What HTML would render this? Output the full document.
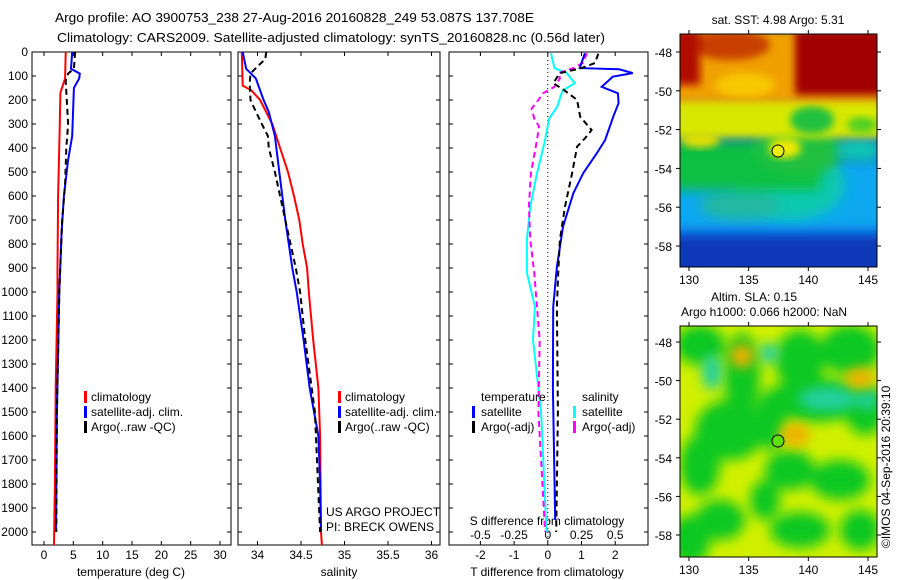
<!DOCTYPE html>
<html><head><meta charset="utf-8"><style>
body{margin:0;background:#fff;}
svg{display:block;font-family:"Liberation Sans",sans-serif;font-size:12px;}
</style></head><body>
<svg id="fig" width="900" height="580" viewBox="0 0 900 580">
<defs>
<filter id="bl" x="-20%" y="-20%" width="140%" height="140%"><feGaussianBlur stdDeviation="6"/></filter>
<filter id="bl2" x="-20%" y="-20%" width="140%" height="140%"><feGaussianBlur stdDeviation="4"/></filter>
<clipPath id="m1c"><rect x="680" y="34" width="197" height="233"/></clipPath>
<clipPath id="m2c"><rect x="680" y="326" width="197" height="231"/></clipPath>
</defs>
<text x="55" y="22" font-size="13" textLength="479" lengthAdjust="spacingAndGlyphs">Argo profile: AO 3900753_238 27-Aug-2016 20160828_249 53.087S 137.708E</text>
<text x="57" y="42" font-size="13" textLength="548" lengthAdjust="spacingAndGlyphs">Climatology: CARS2009. Satellite-adjusted climatology: synTS_20160828.nc (0.56d later)</text>

<g clip-path="url(#m1c)">
<rect x="680" y="34" width="197" height="233" fill="#1060e0"/>
<rect x="670" y="235" width="220" height="45" fill="#0838b8" filter="url(#bl)"/>
<rect x="670" y="160" width="220" height="70" fill="#10a8f0" filter="url(#bl)"/>
<ellipse cx="790" cy="185" rx="55" ry="35" fill="#10c8b0" filter="url(#bl)"/>
<ellipse cx="740" cy="205" rx="40" ry="15" fill="#20b8a0" filter="url(#bl)"/>
<rect x="670" y="140" width="150" height="50" fill="#10c040" filter="url(#bl)"/>
<ellipse cx="800" cy="150" rx="45" ry="25" fill="#20c040" filter="url(#bl)"/>
<ellipse cx="860" cy="150" rx="25" ry="12" fill="#10c8b0" filter="url(#bl)"/>
<rect x="670" y="96" width="220" height="42" fill="#d8e800" filter="url(#bl2)"/>
<ellipse cx="812" cy="120" rx="22" ry="14" fill="#20c040" filter="url(#bl2)"/>
<ellipse cx="862" cy="125" rx="15" ry="8" fill="#50d020" filter="url(#bl2)"/>
<ellipse cx="785" cy="148" rx="16" ry="10" fill="#f0e800" filter="url(#bl2)"/>
<ellipse cx="700" cy="140" rx="20" ry="8" fill="#e0e000" filter="url(#bl2)"/>
<rect x="670" y="30" width="220" height="72" fill="#f0a000" filter="url(#bl2)"/>
<ellipse cx="730" cy="45" rx="40" ry="15" fill="#c84000" filter="url(#bl2)"/>
<rect x="795" y="30" width="90" height="65" fill="#a00000" filter="url(#bl2)"/>
<rect x="670" y="30" width="30" height="55" fill="#b01000" filter="url(#bl2)"/>
<ellipse cx="745" cy="85" rx="30" ry="12" fill="#f8c800" filter="url(#bl2)"/>
</g>
<rect x="680" y="34" width="197" height="233" fill="none" stroke="#000"/>
<circle cx="778" cy="151" r="6" fill="#e8f000" stroke="#000"/>
<text x="778" y="24" text-anchor="middle">sat. SST: 4.98 Argo: 5.31</text>

<g clip-path="url(#m2c)">
<rect x="680" y="326" width="197" height="231" fill="#d0f000"/>
<g filter="url(#bl)" fill="#10c820">
<ellipse cx="700" cy="345" rx="25" ry="20"/><ellipse cx="742" cy="375" rx="18" ry="42"/>
<ellipse cx="800" cy="360" rx="25" ry="30"/><ellipse cx="850" cy="350" rx="30" ry="25"/>
<ellipse cx="815" cy="400" rx="50" ry="22"/><ellipse cx="865" cy="410" rx="20" ry="25"/>
<ellipse cx="730" cy="430" rx="35" ry="30"/><ellipse cx="700" cy="465" rx="20" ry="30"/>
<ellipse cx="790" cy="470" rx="25" ry="20"/><ellipse cx="840" cy="480" rx="30" ry="20"/>
<ellipse cx="720" cy="520" rx="25" ry="20"/><ellipse cx="800" cy="530" rx="30" ry="18"/>
<ellipse cx="860" cy="530" rx="20" ry="20"/><ellipse cx="770" cy="420" rx="15" ry="30"/>
<ellipse cx="690" cy="540" rx="20" ry="25"/><ellipse cx="765" cy="500" rx="15" ry="20"/>
</g>
<g filter="url(#bl)" fill="#20d0a0">
<ellipse cx="712" cy="372" rx="10" ry="18"/><ellipse cx="769" cy="353" rx="10" ry="10"/>
<ellipse cx="828" cy="399" rx="30" ry="12"/><ellipse cx="868" cy="400" rx="10" ry="10"/>
</g>
<g filter="url(#bl)" fill="#f0b000">
<ellipse cx="742" cy="356" rx="12" ry="12"/><ellipse cx="795" cy="435" rx="15" ry="12"/><ellipse cx="860" cy="378" rx="15" ry="10"/>
</g>
</g>
<rect x="680" y="326" width="197" height="231" fill="none" stroke="#000"/>
<circle cx="778" cy="441" r="6" fill="#60e000" stroke="#000"/>
<text x="754" y="301" text-anchor="middle">Altim. SLA: 0.15</text>
<text x="764" y="316" text-anchor="middle">Argo h1000: 0.066 h2000: NaN</text>
<text transform="translate(890,548) rotate(-90)">©IMOS 04-Sep-2016 20:39:10</text>

<text x="326" y="516">US ARGO PROJECT</text>
<text x="326" y="531">PI: BRECK OWENS</text>
<text x="547" y="525" text-anchor="middle">S difference from climatology</text>
<g id="g"></g>
</svg>
<script>
// ---- data (depth in m) ----
const tDepth=[0,110,170,300,600,900,1000,1400,1800,2054];
const tClim=[3.7,3.6,2.8,2.7,2.4,2.3,2.3,2.0,1.85,1.7];
const tSatDepth=[0,70,90,110,150,350,450,600,750,1000,1500,2000];
const tSat=[4.8,4.6,6.1,6.0,5.1,4.8,4.1,3.4,3.0,2.6,2.2,2.05];
const tArgoDepth=[0,70,90,120,300,400,550,700,1000,1500,2000];
const tArgo=[5.3,5.1,4.1,3.7,4.1,3.8,3.6,3.1,2.6,2.2,2.1];
const sClimDepth=[0,140,160,200,250,300,400,500,600,700,800,900,1000,1200,1400,1600,2000,2054];
const sClim=[33.82,33.83,33.93,34.03,34.1,34.17,34.26,34.35,34.42,34.48,34.52,34.57,34.59,34.64,34.7,34.72,34.73,34.74];
const sSatDepth=[0,70,110,200,250,350,500,700,900,1000,1200,1400,1600,1800,2000];
const sSat=[33.83,33.87,33.98,34.07,34.13,34.2,34.25,34.32,34.4,34.45,34.53,34.6,34.7,34.72,34.73];
const sArgoDepth=[0,30,60,90,130,200,240,300,350,400,500,700,900,1000,1200,1500,2000];
const sArgo=[34.1,34.09,34.0,33.92,33.91,33.92,33.97,34.05,34.12,34.13,34.2,34.32,34.44,34.49,34.55,34.66,34.72];
const dtSatDepth=[5,46,67,72,88,103,145,172,213,270,367,421,505,588,728,895,1062,1400,1950];
const dtSat=[1.1,1.0,0.95,2.12,2.52,1.93,1.6,2.08,2.1,1.94,1.7,1.46,1.05,0.76,0.45,0.27,0.16,0.15,0.22];
const dtArgoDepth=[7,46,67,88,130,160,200,270,325,360,394,505,644,783,922,1062,1500,2000];
const dtArgo=[1.5,1.4,1.0,0.36,0.16,0.5,0.87,0.96,1.3,1.1,0.87,0.72,0.51,0.36,0.31,0.27,0.3,0.25];
const dsSatDepth=[5,67,88,130,160,228,278,367,505,644,780,920,1062,1200,1500,2000];
const dsSat=[0.024,0.05,0.14,0.2,0.11,0.07,0.01,-0.02,-0.08,-0.13,-0.155,-0.155,-0.095,-0.11,-0.05,-0.01];
const dsArgoDepth=[5,46,67,88,110,145,172,200,236,278,310,367,505,644,783,922,1062,1200,1500,2000];
const dsArgo=[0.29,0.26,0.19,0.08,0.09,0.05,-0.035,-0.07,-0.12,-0.1,-0.065,-0.08,-0.125,-0.14,-0.13,-0.1,-0.08,-0.06,-0.07,-0.02];
const depthTicks=[0,100,200,300,400,500,600,700,800,900,1000,1100,1200,1300,1400,1500,1600,1700,1800,1900,2000];
const tTicks=[0,5,10,15,20,25,30];
const sTicks=[34,34.5,35,35.5,36];
const dtTicks=[-2,-1,0,1,2];
const dsTicks=[-0.5,-0.25,0,0.25,0.5];
const dsTickLabels=["-0.5","-0.25","0","0.25","0.5"];

const NS='http://www.w3.org/2000/svg';
const G=document.getElementById('g');
const TOP=52,BOT=545;
const yD=d=>TOP+d*0.24;
function mk(tag,at,parent){const e=document.createElementNS(NS,tag);for(const k in at)e.setAttribute(k,at[k]);(parent||G).appendChild(e);return e;}
const P1={l:32,r:231,x:v=>44+v*(176/30)};
const P2={l:238,r:440,x:v=>257.5+(v-34)*87};
const P3={l:449,r:648,x:v=>547.8+v*33.7};
const sx3=v=>547.8+v*134.8;

function frame(p,name){
  const r=mk('rect',{x:p.l,y:TOP,width:p.r-p.l,height:BOT-TOP,fill:'none',stroke:'#000'});
  
  
}
function line(xs,ds,fx,color,dash,name){
  const pts=xs.map((v,i)=>fx(v).toFixed(1)+','+yD(ds[i]).toFixed(1)).join(' ');
  const e=mk('polyline',{points:pts,fill:'none',stroke:color,'stroke-width':2});
  if(dash)e.setAttribute('stroke-dasharray',dash);
  
  
}
function xticks(p,ticks,fx,labels,name){
  ticks.forEach((t,i)=>{
    const x=fx(t);
    mk('line',{x1:x,y1:TOP,x2:x,y2:TOP+4,stroke:'#000'});
    mk('line',{x1:x,y1:BOT,x2:x,y2:BOT-4,stroke:'#000'});
    const tx=mk('text',{x:x,y:BOT+14,'text-anchor':'middle'});
    tx.textContent=labels?labels[i]:String(t);
    
    
  });
}
[P1,P2,P3].forEach((p,pi)=>{
  depthTicks.forEach(d=>{
    const y=yD(d);
    mk('line',{x1:p.l,y1:y,x2:p.l+4,y2:y,stroke:'#000'});
    mk('line',{x1:p.r,y1:y,x2:p.r-4,y2:y,stroke:'#000'});
    if(pi===0){const t=mk('text',{x:28,y:y+4,'text-anchor':'end'});t.textContent=d;
      
      }
  });
});
frame(P1,'temperature-panel');frame(P2,'salinity-panel');frame(P3,'difference-panel');
xticks(P1,tTicks,P1.x,null,'temperature');
xticks(P2,sTicks,P2.x,null,'salinity');
xticks(P3,dtTicks,P3.x,null,'t-diff');
dsTicks.forEach((t,i)=>{const x=sx3(t);const tx=mk('text',{x:x,y:539,'text-anchor':'middle'});tx.textContent=dsTickLabels[i];
  
  });
[['temperature (deg C)',131,'temperature-axis-title'],['salinity',339,'salinity-axis-title'],['T difference from climatology',547,'t-diff-axis-title']].forEach(a=>{
  const t=mk('text',{x:a[1],y:576,'text-anchor':'middle'});t.textContent=a[0];
  
  });
const zl=mk('line',{x1:P3.x(0),y1:TOP,x2:P3.x(0),y2:BOT,stroke:'#000','stroke-dasharray':'1,3'});



line(tClim,tDepth,P1.x,'#f00',null,'temperature-climatology-line');
line(tSat,tSatDepth,P1.x,'#00f',null,'temperature-satellite-line');
line(tArgo,tArgoDepth,P1.x,'#000','6,4','temperature-argo-line');
line(sClim,sClimDepth,P2.x,'#f00',null,'salinity-climatology-line');
line(sSat,sSatDepth,P2.x,'#00f',null,'salinity-satellite-line');
line(sArgo,sArgoDepth,P2.x,'#000','6,4','salinity-argo-line');
line(dsSat,dsSatDepth,sx3,'#0ff',null,'s-diff-satellite-line');
line(dsArgo,dsArgoDepth,sx3,'#f0f','6,4','s-diff-argo-line');
line(dtSat,dtSatDepth,P3.x,'#00f',null,'t-diff-satellite-line');
line(dtArgo,dtArgoDepth,P3.x,'#000','6,4','t-diff-argo-line');

function legend(x,y,items,name){
  items.forEach((it,i)=>{
    const yy=y+i*15;
    if(it[1])mk('rect',{x:x,y:yy-10,width:3,height:12,fill:it[1]});
    const t=mk('text',{x:x+it[2],y:yy});t.textContent=it[0];
    
    
  });
}
legend(84,401,[['climatology','#f00',7],['satellite-adj. clim.','#00f',7],['Argo(..raw -QC)','#000',7]],'temperature-legend');
legend(338,401,[['climatology','#f00',7],['satellite-adj. clim.','#00f',7],['Argo(..raw -QC)','#000',7]],'salinity-legend');
legend(472,401,[['temperature',null,9],['satellite','#00f',9],['Argo(-adj)','#000',9]],'t-diff-legend');
legend(573,401,[['salinity',null,9],['satellite','#0ff',9],['Argo(-adj)','#f0f',9]],'s-diff-legend');

function mapAxes(top,bot,latTop,latPx,name){
  const lonX=l=>689+(l-130)*(179/15);
  [130,135,140,145].forEach(l=>{const x=lonX(l);
    mk('line',{x1:x,y1:bot,x2:x,y2:bot+4,stroke:'#000'});mk('line',{x1:x,y1:top,x2:x,y2:top-4,stroke:'#000'});
    const t=mk('text',{x:x,y:bot+17,'text-anchor':'middle'});t.textContent=l;
    
    });
  [-48,-50,-52,-54,-56,-58].forEach(la=>{const y=latTop+(-48-la)*latPx;
    mk('line',{x1:676,y1:y,x2:680,y2:y,stroke:'#000'});mk('line',{x1:877,y1:y,x2:881,y2:y,stroke:'#000'});
    const t=mk('text',{x:672,y:y+5,'text-anchor':'end'});t.textContent=la;
    
    });
}
mapAxes(34,267,52,19.4,'sst-map');
mapAxes(326,557,342,19.3,'sla-map');
</script>
</body></html>
